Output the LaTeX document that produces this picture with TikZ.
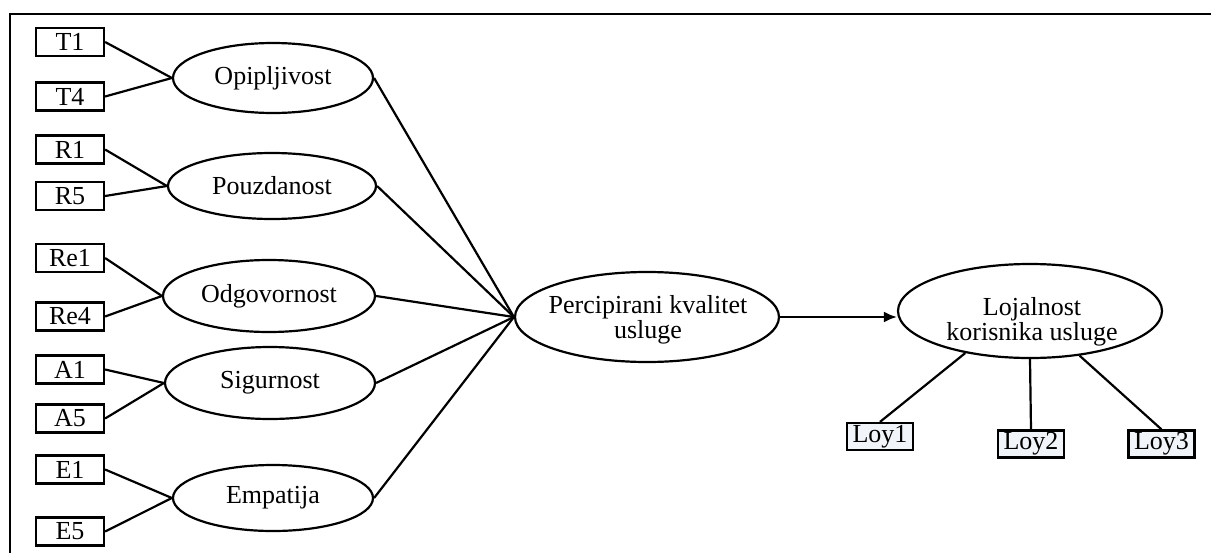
\documentclass[tikz,border=0pt]{standalone}
\usepackage{fontspec}
\setmainfont{Liberation Serif}
\usetikzlibrary{shapes.geometric,arrows.meta}
\definecolor{loyfill}{RGB}{241,244,249}
\begin{document}
\begin{tikzpicture}[x=1pt,y=-1pt,
  txt/.style={font=\fontsize{26}{23.5}\selectfont},
  ind/.style={draw,line width=2.2pt,minimum width=68pt,minimum height=28pt,inner sep=0pt,txt},
  loy/.style={ind,fill=loyfill,minimum width=66pt,minimum height=27pt},
  lat/.style={draw,ellipse,line width=2.2pt,inner sep=0pt,txt},
  con/.style={line width=2.2pt},
  frame/.style={line width=2pt}]
\useasboundingbox (0,0) rectangle (1211,552);
% frame
\coordinate (fbl) at (10,553);
\coordinate (ftl) at (10,13.5);
\coordinate (ftr) at (1212,13.5);
\draw[frame] (fbl) -- (ftl) -- (ftr);
% indicators
\node[ind] (T1) at (70,42) {T1};
\node[ind] (T4) at (70,96.5) {T4};
\node[ind] (R1) at (70,149.5) {R1};
\node[ind] (R5) at (70,196) {R5};
\node[ind] (Re1) at (70,258) {Re1};
\node[ind] (Re4) at (70,316.5) {Re4};
\node[ind] (A1) at (70,369.5) {A1};
\node[ind] (A5) at (70,418.5) {A5};
\node[ind] (E1) at (70,469.5) {E1};
\node[ind] (E5) at (70,531.5) {E5};
% latent constructs
\node[lat,minimum width=200pt,minimum height=70pt] (op) at (273,78) {Opipljivost};
\node[lat,minimum width=208pt,minimum height=66pt] (po) at (272,186) {Pouzdanost};
\node[lat,minimum width=212pt,minimum height=72pt] (od) at (269,296) {Odgovornost};
\node[lat,minimum width=210pt,minimum height=72pt] (si) at (270,383) {Sigurnost};
\node[lat,minimum width=200pt,minimum height=66pt] (em) at (273,498) {Empatija};
\node[lat,minimum width=264pt,minimum height=90pt] (pk) at (647,317) {};
\node[txt,align=center] (pkt) at (648,320) {Percipirani kvalitet\\usluge};
\node[lat,minimum width=264pt,minimum height=94pt] (loj) at (1030,311) {};
\node[txt,align=center] (lojt) at (1032,322) {Lojalnost\\korisnika usluge};
% loyalty indicators
\node[loy] (L1) at (880,436.5) {Loy1};
\node[loy] (L2) at (1031,444) {Loy2};
\node[loy] (L3) at (1161.5,444) {Loy3};
% connectors
\foreach \a/\b in {T1/op,T4/op,R1/po,R5/po,Re1/od,Re4/od,A1/si,A5/si,E1/em,E5/em}
  \draw[con] (\a.east) -- (\b.west);
\foreach \a in {op,po,od,si,em}
  \draw[con] (\a.east) -- (pk.west);
\draw[con,-{Latex[length=13pt,width=11pt]}] (pk.east) -- (pk.east -| loj.west);
\draw[con] (loj.213) -- (L1.north);
\draw[con] (loj.south) -- (L2.north);
\draw[con] (loj.318) -- (L3.north);
\end{tikzpicture}
\end{document}
